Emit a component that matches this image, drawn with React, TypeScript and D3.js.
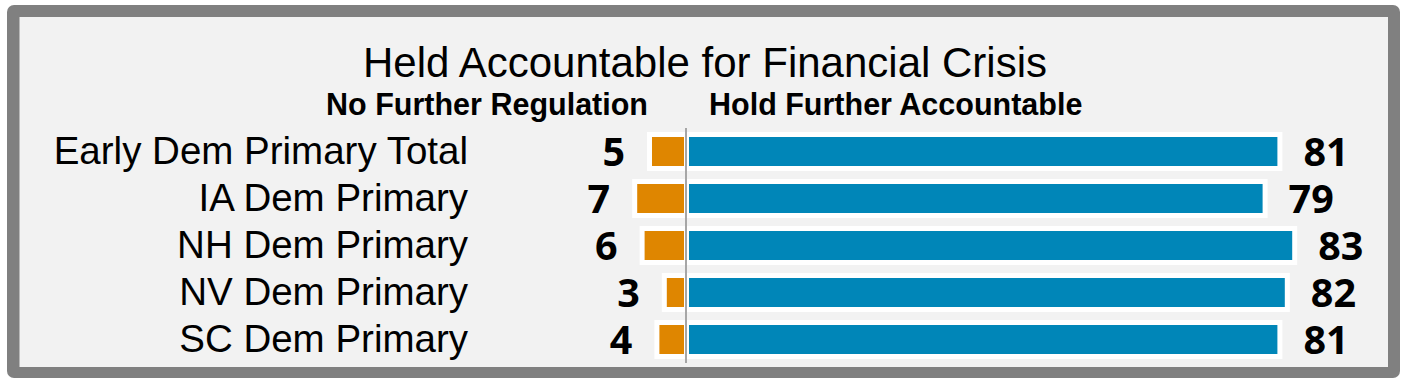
import React from "react";
import * as d3 from "d3";

const title = "Held Accountable for Financial Crisis";
const leftHeader = "No Further Regulation";
const rightHeader = "Hold Further Accountable";
const categories = [
  "Early Dem Primary Total",
  "IA Dem Primary",
  "NH Dem Primary",
  "NV Dem Primary",
  "SC Dem Primary",
];
const noFurther = [5, 7, 6, 3, 4];
const holdFurther = [81, 79, 83, 82, 81];

const W = 1409;
const H = 388;
const X0 = 686;
const BLUE = "#0086b8";
const ORANGE = "#df8600";

export default function App() {
  const xr = d3.scaleLinear().domain([0, 100]).range([X0, X0 + 740]);
  const xl = d3.scaleLinear().domain([0, 100]).range([X0, X0 - 740]);
  const y = d3
    .scaleBand<string>()
    .domain(categories)
    .range([128, 363])
    .paddingInner(0)
    .paddingOuter(0);
  const fillH = 29;
  const border = 5;
  const labelFont = "'Liberation Sans', Arial, sans-serif";
  const numFont = "'Open Sans', 'Noto Sans', sans-serif";

  return (
    <svg
      width={W}
      height={H}
      style={{ position: "absolute", left: 0, top: 0, display: "block" }}
    >
      <rect x={0} y={0} width={W} height={H} fill="#ffffff" />
      <rect x={7} y={5} width={1393} height={373} rx={7} fill="#808080" />
      <rect x={19.5} y={17} width={1368.5} height={350} fill="#f2f2f2" />

      <text
        x={705}
        y={77}
        textAnchor="middle"
        fontFamily={labelFont}
        fontSize={42}
        fill="#000"
      >
        {title}
      </text>
      <text
        x={648}
        y={115}
        textAnchor="end"
        fontFamily={labelFont}
        fontWeight="bold"
        fontSize={30.5}
        fill="#000"
      >
        {leftHeader}
      </text>
      <text
        x={709}
        y={115}
        textAnchor="start"
        fontFamily={labelFont}
        fontWeight="bold"
        fontSize={30.5}
        fill="#000"
      >
        {rightHeader}
      </text>

      {categories.map((c, i) => {
        const cy = (y(c) as number) + y.bandwidth() / 2;
        const top = cy - fillH / 2;
        const bx1 = xr(0) + 3;
        const bx2 = xr(holdFurther[i]) - 8;
        const ox1 = xl(noFurther[i]) + 3;
        const ox2 = xl(0) - 2;
        return (
          <g key={c}>
            <text
              x={468}
              y={cy + 12.5}
              textAnchor="end"
              fontFamily={labelFont}
              fontSize={38.5}
              fill="#000"
            >
              {c}
            </text>
            <rect
              x={ox1 - border}
              y={top - border}
              width={ox2 - ox1 + 2 * border}
              height={fillH + 2 * border}
              fill="#ffffff"
            />
            <rect
              x={bx1 - border}
              y={top - border}
              width={bx2 - bx1 + 2 * border}
              height={fillH + 2 * border}
              fill="#ffffff"
            />
            <rect x={ox1} y={top} width={ox2 - ox1} height={fillH} fill={ORANGE} />
            <rect x={bx1} y={top} width={bx2 - bx1} height={fillH} fill={BLUE} />
            <text
              x={ox1 - 27}
              y={cy + 14.5}
              textAnchor="end"
              fontFamily={numFont}
              fontWeight="bold"
              fontSize={39.5}
              fill="#000"
            >
              {noFurther[i]}
            </text>
            <text
              x={bx2 + 26}
              y={cy + 14.5}
              textAnchor="start"
              fontFamily={numFont}
              fontWeight="bold"
              fontSize={39.5}
              fill="#000"
            >
              {holdFurther[i]}
            </text>
          </g>
        );
      })}

      <line
        x1={X0}
        x2={X0}
        y1={128}
        y2={363}
        stroke="#a6a6a6"
        strokeWidth={2}
      />
    </svg>
  );
}
